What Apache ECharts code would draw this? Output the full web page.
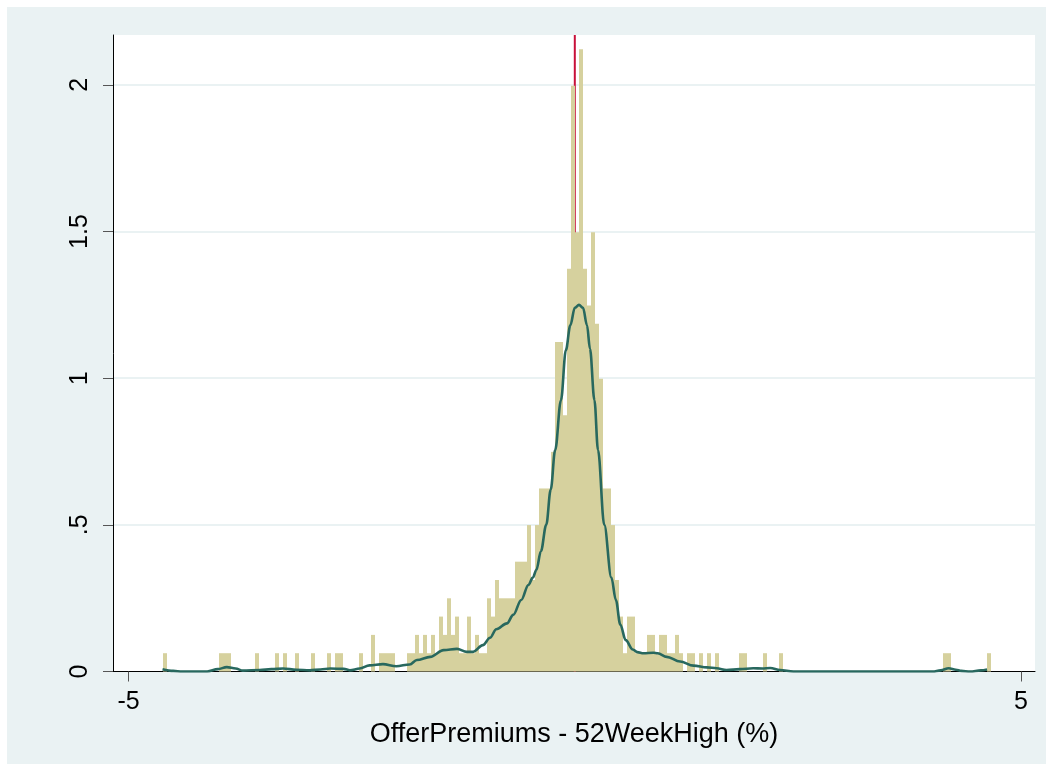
<!DOCTYPE html>
<html><head><meta charset="utf-8">
<script src="https://cdn.jsdelivr.net/npm/echarts@6/dist/echarts.min.js"></script>
<style>html,body{margin:0;padding:0;background:#fff;} #chart{width:1053px;height:771px;}</style>
</head><body><div id="chart"></div>
<script>
// Histogram bins (counts per bin), first bin starts at binStart
const binStart = -4.614;
const binWidth = 0.0448;
const densityPerCount = 0.0624;
const binCounts = [
  1,0,0,0,0,0,0,0,0,0,
  0,0,0,0,1,1,1,0,0,0,
  0,0,0,1,0,0,0,0,1,0,
  1,0,0,1,0,0,0,1,0,0,
  0,1,0,1,1,0,0,0,0,1,
  0,0,2,0,1,1,1,1,0,0,
  0,1,1,2,1,2,1,2,1,3,
  2,4,2,3,1,1,3,1,2,1,
  1,4,3,5,4,4,4,4,6,6,
  6,8,5,8,10,10,10,12,18,18,
  14,22,32,24,34,22,20,24,19,16,
  10,10,8,5,3,1,3,3,1,1,
  1,2,2,1,2,2,1,1,2,1,
  0,1,1,0,1,0,1,0,1,0,
  0,0,0,0,1,1,0,0,0,0,
  1,0,0,0,1,0,0,0,0,0,
  0,0,0,0,0,0,0,0,0,0,
  0,0,0,0,0,0,0,0,0,0,
  0,0,0,0,0,0,0,0,0,0,
  0,0,0,0,0,1,1,0,0,0,
  0,0,0,0,0,0,1
];
// Kernel density curve
const kdeX = [-4.62,-4.50,-4.40,-4.12,-4.00,-3.90,-3.80,-3.72,-3.53,-3.40,-3.27,-3.12,-2.97,-2.85,-2.74,-2.59,-2.52,-2.41,-2.30,-2.15,-2.00,-1.85,-1.77,-1.62,-1.47,-1.32,-1.21,-1.14,-1.03,-0.95,-0.88,-0.76,-0.69,-0.60,-0.52,-0.47,-0.43,-0.38,-0.32,-0.27,-0.22,-0.155,-0.10,-0.05,0.00,0.047,0.092,0.137,0.17,0.22,0.26,0.33,0.41,0.46,0.51,0.57,0.65,0.70,0.77,0.88,0.93,1.03,1.18,1.33,1.48,1.59,1.70,1.85,2.00,2.10,2.19,2.30,2.45,4.01,4.10,4.19,4.27,4.33,4.43,4.55,4.62];
const kdeY = [0.008,0.002,0.0,0.0,0.008,0.015,0.010,0.003,0.005,0.008,0.010,0.006,0.004,0.007,0.010,0.009,0.004,0.010,0.021,0.025,0.018,0.024,0.039,0.050,0.073,0.077,0.067,0.067,0.090,0.115,0.144,0.164,0.193,0.244,0.295,0.320,0.347,0.41,0.50,0.62,0.755,0.925,1.096,1.18,1.24,1.25,1.24,1.18,1.10,0.925,0.755,0.50,0.32,0.244,0.16,0.107,0.075,0.066,0.062,0.064,0.062,0.050,0.034,0.020,0.014,0.011,0.005,0.008,0.011,0.010,0.012,0.005,0.0,0.0,0.004,0.011,0.006,0.002,0.0,0.004,0.007];
const xTickValues = [-5, 5];
const yTickValues = [0, 0.5, 1, 1.5, 2];
const yTickLabels = ['0', '.5', '1', '1.5', '2'];
const xTitle = 'OfferPremiums - 52WeekHigh (%)';
const refLineX = 0;

const barColor = '#D6D19E';
const kdeColor = '#28685E';
const refColor = '#C8103A';
const bgColor = '#EAF2F3';
const font = 'Liberation Sans, Arial, sans-serif';

const yMax = 2.17;
const barData = [];
binCounts.forEach((c, i) => {
  if (c > 0) barData.push([binStart + i * binWidth, binStart + (i + 1) * binWidth, c * densityPerCount]);
});
const kdeData = kdeX.map((x, i) => [x, kdeY[i]]);

const chart = echarts.init(document.getElementById('chart'), null, {renderer: 'canvas'});
chart.setOption({
  animation: false,
  backgroundColor: '#ffffff',
  graphic: [{type: 'rect', z: -10, silent: true, shape: {x: 7, y: 7, width: 1039, height: 757}, style: {fill: bgColor}}],
  grid: {left: 113, top: 35, right: 18, bottom: 99.5, show: true, backgroundColor: '#ffffff', borderWidth: 0, containLabel: false},
  xAxis: {
    type: 'value', min: -5.175, max: 5.157,
    axisLine: {show: true, onZero: false, lineStyle: {color: '#000', width: 1}},
    axisTick: {show: true, length: 10, lineStyle: {color: '#555', width: 1}, customValues: xTickValues},
    axisLabel: {show: true, customValues: xTickValues, margin: 18, color: '#000', fontSize: 25, fontFamily: font,
      formatter: v => String(v)},
    splitLine: {show: false},
    name: xTitle, nameLocation: 'middle', nameGap: 50,
    nameTextStyle: {color: '#000', fontSize: 27, fontFamily: font}
  },
  yAxis: {
    type: 'value', min: 0, max: yMax, interval: 0.5,
    axisLine: {show: true, onZero: false, lineStyle: {color: '#000', width: 1}},
    axisTick: {show: true, length: 10, lineStyle: {color: '#555', width: 1}, customValues: yTickValues},
    axisLabel: {show: true, customValues: yTickValues, rotate: 90, margin: 20, color: '#000', fontSize: 25, fontFamily: font,
      formatter: v => { const k = yTickValues.findIndex(t => Math.abs(t - v) < 1e-6); return k >= 0 ? yTickLabels[k] : ''; }},
    splitLine: {show: true, lineStyle: {color: bgColor, width: 2}}
  },
  series: [
    {type: 'line', data: [[refLineX, 0], [refLineX, yMax]], symbol: 'none', lineStyle: {color: refColor, width: 2}, z: 1},
    {type: 'custom', z: 2, data: barData, encode: {x: [0, 1], y: 2},
      renderItem: (params, api) => {
        const p0 = api.coord([api.value(0), api.value(2)]);
        const p1 = api.coord([api.value(1), 0]);
        const xl = Math.round(p0[0]), xr = Math.round(p1[0]);
        return {type: 'rect', shape: {x: xl, y: p0[1], width: Math.max(xr - xl, 1), height: p1[1] - p0[1]},
          style: {fill: barColor}};
      }},
    {type: 'line', z: 3, data: kdeData, smooth: 0.35, smoothMonotone: 'x', symbol: 'none', lineStyle: {color: kdeColor, width: 2.6}}
  ]
});
</script></body></html>
